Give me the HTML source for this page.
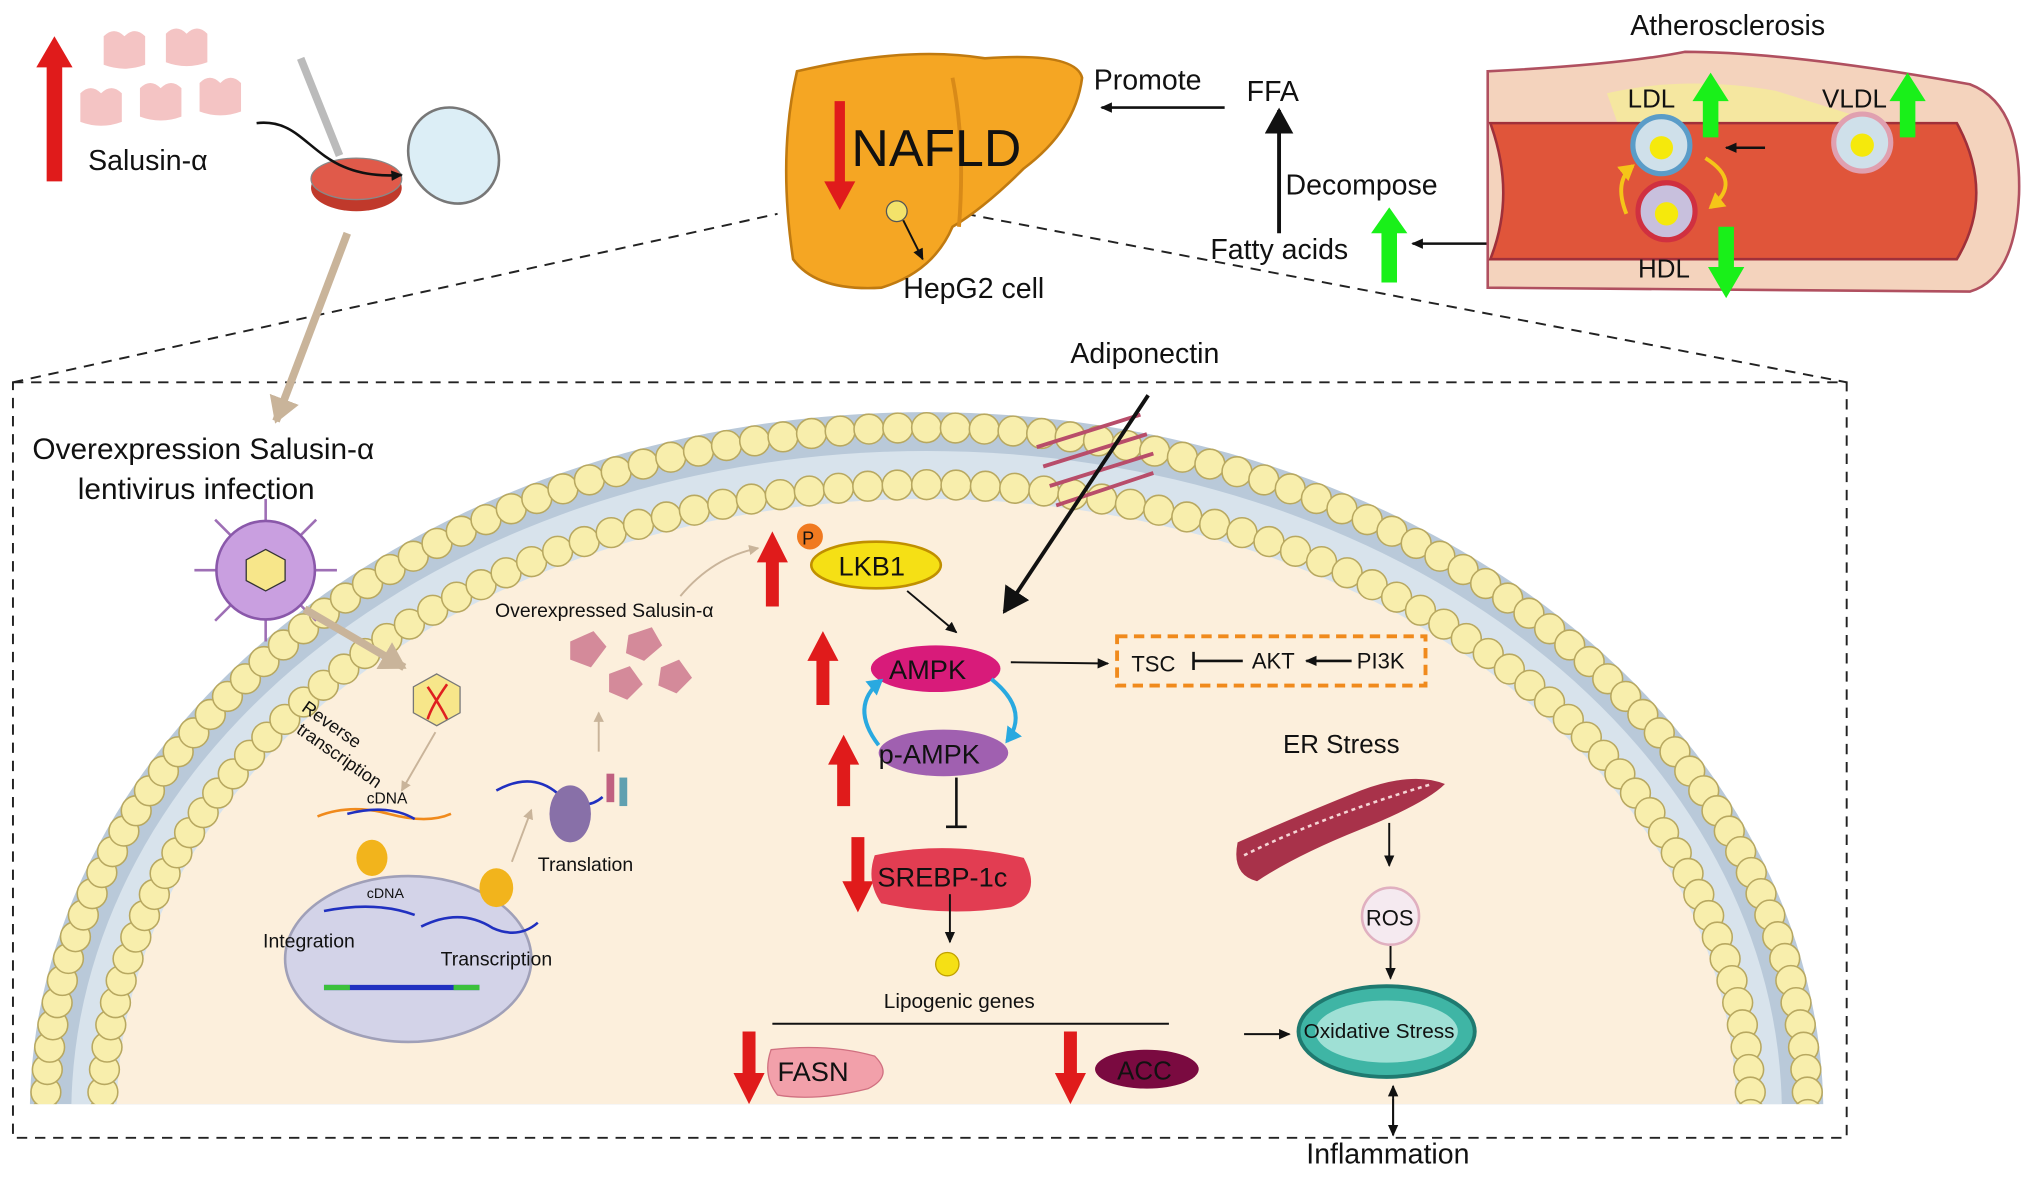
<!DOCTYPE html>
<html><head><meta charset="utf-8"><style>
html,body{margin:0;padding:0;background:#fff;width:2032px;height:1178px;overflow:hidden}
svg{display:block}
text{font-family:"Liberation Sans",sans-serif;fill:#111}
</style></head><body>
<svg id="s" width="2032" height="1178" viewBox="0 0 1568 909" xmlns="http://www.w3.org/2000/svg">
<defs>
<marker id="ah" markerWidth="10" markerHeight="10" refX="8" refY="5" orient="auto" markerUnits="userSpaceOnUse"><path d="M0,1 L9,5 L0,9 Z" fill="#111"/></marker>
<marker id="ahb" markerWidth="22" markerHeight="22" refX="18" refY="11" orient="auto" markerUnits="userSpaceOnUse"><path d="M0,0 L20,11 L0,22 Z" fill="#111"/></marker>
<marker id="aht" markerWidth="24" markerHeight="24" refX="18" refY="12" orient="auto" markerUnits="userSpaceOnUse"><path d="M0,0 L20,12 L0,24 Z" fill="#c9b49a"/></marker>
<marker id="ahs" markerWidth="8" markerHeight="8" refX="7" refY="4" orient="auto" markerUnits="userSpaceOnUse"><path d="M0,0 L8,4 L0,8 Z" fill="#c9b49a"/></marker>
<marker id="ahbl" markerWidth="14" markerHeight="14" refX="10" refY="7" orient="auto" markerUnits="userSpaceOnUse"><path d="M0,0 L12,7 L0,14 Z" fill="#29a9e0"/></marker>
<marker id="ahy" markerWidth="14" markerHeight="14" refX="10" refY="7" orient="auto" markerUnits="userSpaceOnUse"><path d="M0,0 L12,7 L0,14 Z" fill="#f5c518"/></marker>
<clipPath id="cl"><rect x="0" y="0" width="1568" height="852"/></clipPath>
</defs>

<g stroke="#222" stroke-width="1.5" stroke-dasharray="8,6" fill="none">
<rect x="10" y="295" width="1415" height="583"/>
<line x1="10" y1="295" x2="600" y2="165"/>
<line x1="745" y1="165" x2="1425" y2="295"/>
</g>

<g clip-path="url(#cl)" id="cell">
<ellipse cx="715" cy="860" rx="692" ry="542" fill="#b9c9d9"/>
<ellipse cx="715" cy="860" rx="660" ry="512" fill="#d8e3ec"/>
<ellipse cx="715" cy="860" rx="625" ry="475" fill="#fcefdc"/>
<g id="beads"></g>
</g>

<polygon points="36,140 48,140 48,52 56,52 42,28 28,52 36,52" fill="#e01b1b"/>
<g fill="#f4c4c4">
<path d="M80,28 q8,-8 16,0 q8,-8 16,0 l0,22 q-16,6 -32,0z"/>
<path d="M128,26 q8,-8 16,0 q8,-8 16,0 l0,22 q-16,6 -32,0z"/>
<path d="M62,72 q8,-8 16,0 q8,-8 16,0 l0,22 q-16,6 -32,0z"/>
<path d="M108,68 q8,-8 16,0 q8,-8 16,0 l0,22 q-16,6 -32,0z"/>
<path d="M154,64 q8,-8 16,0 q8,-8 16,0 l0,22 q-16,6 -32,0z"/>
</g>
<text x="68" y="131" font-size="22">Salusin-α</text>
<ellipse cx="275" cy="145" rx="35" ry="18" fill="#c0392b"/>
<ellipse cx="275" cy="138" rx="35" ry="16" fill="#e05a4a" stroke="#888"/>
<ellipse cx="350" cy="120" rx="34" ry="38" fill="#dceef6" stroke="#777" stroke-width="2" transform="rotate(-30 350 120)"/>
<line x1="232" y1="45" x2="262" y2="120" stroke="#bbb" stroke-width="6"/>
<path d="M198,95 C240,90 240,140 310,135" stroke="#111" stroke-width="2" fill="none" marker-end="url(#ah)"/>
<line x1="268" y1="180" x2="213" y2="325" stroke="#c9b49a" stroke-width="6" marker-end="url(#aht)"/>

<path d="M615,55 Q700,35 760,45 Q830,40 835,60 Q830,100 790,130 Q760,160 735,175 Q720,210 680,222 Q630,225 612,200 Q600,120 615,55Z" fill="#f5a623" stroke="#c07a10" stroke-width="2"/>
<path d="M735,60 Q745,110 740,175" stroke="#d88a18" stroke-width="3" fill="none"/>
<polygon points="644,78 652,78 652,140 660,140 648,162 636,140 644,140" fill="#e01b1b"/>
<text x="657" y="128" font-size="40">NAFLD</text>
<circle cx="692" cy="163" r="8" fill="#f3e26a" stroke="#555"/>
<line x1="697" y1="170" x2="712" y2="200" stroke="#111" stroke-width="1.5" marker-end="url(#ah)"/>
<text x="697" y="230" font-size="22">HepG2 cell</text>
<text x="844" y="69" font-size="22">Promote</text>
<line x1="945" y1="83" x2="850" y2="83" stroke="#111" stroke-width="2" marker-end="url(#ah)"/>
<text x="962" y="78" font-size="22">FFA</text>
<line x1="987" y1="180" x2="987" y2="85" stroke="#111" stroke-width="3" marker-end="url(#ahb)"/>
<text x="992" y="150" font-size="22">Decompose</text>
<text x="934" y="200" font-size="22">Fatty acids</text>
<polygon points="1066,218 1078,218 1078,180 1086,180 1072,160 1058,180 1066,180" fill="#19f019"/>
<line x1="1150" y1="188" x2="1090" y2="188" stroke="#111" stroke-width="2" marker-end="url(#ah)"/>

<text x="1258" y="27" font-size="22">Atherosclerosis</text>
<path d="M1148,55 Q1250,50 1300,40 Q1380,40 1520,65 Q1560,80 1558,150 Q1555,215 1520,225 L1148,222Z" fill="#f4d3bd" stroke="#b05060" stroke-width="2"/>
<path d="M1240,72 Q1300,58 1370,70 L1450,95 L1250,100Z" fill="#f5e7a0"/>
<path d="M1150,95 L1510,95 Q1540,150 1510,200 L1150,200 Q1170,150 1150,95Z" fill="#e0553a" stroke="#a0303a" stroke-width="2"/>
<circle cx="1282" cy="112" r="22" fill="#cfe0ea" stroke="#5a9cc8" stroke-width="4"/><circle cx="1282" cy="114" r="9" fill="#f5e90c"/>
<circle cx="1437" cy="110" r="22" fill="#cfe0ea" stroke="#e0a0b0" stroke-width="4"/><circle cx="1437" cy="112" r="9" fill="#f5e90c"/>
<circle cx="1286" cy="163" r="22" fill="#c8c0dd" stroke="#d03040" stroke-width="4"/><circle cx="1286" cy="165" r="9" fill="#f5e90c"/>
<path d="M1255,165 Q1245,140 1260,128" stroke="#f5c518" stroke-width="3" fill="none" marker-end="url(#ahy)"/>
<path d="M1316,122 Q1345,140 1320,160" stroke="#f5c518" stroke-width="3" fill="none" marker-end="url(#ahy)"/>
<line x1="1362" y1="114" x2="1332" y2="114" stroke="#111" stroke-width="2" marker-end="url(#ah)"/>
<text x="1256" y="83" font-size="20">LDL</text>
<text x="1406" y="83" font-size="20">VLDL</text>
<text x="1264" y="214" font-size="20">HDL</text>
<polygon points="1314,106 1326,106 1326,78 1334,78 1320,56 1306,78 1314,78" fill="#19f019"/>
<polygon points="1466,106 1478,106 1478,78 1486,78 1472,56 1458,78 1466,78" fill="#19f019"/>
<polygon points="1326,175 1338,175 1338,206 1346,206 1332,230 1318,206 1326,206" fill="#19f019"/>

<text x="826" y="280" font-size="22">Adiponectin</text>
<g stroke="#b84d6a" stroke-width="3" fill="none">
<path d="M800,345 L880,320 M805,360 L885,335 M810,375 L890,350 M815,390 L890,365"/>
</g>
<line x1="886" y1="305" x2="775" y2="472" stroke="#111" stroke-width="3" marker-end="url(#ahb)"/>

<text x="25" y="354" font-size="23">Overexpression Salusin-α</text>
<text x="60" y="385" font-size="23">lentivirus infection</text>
<g stroke="#9e6fb5" stroke-width="2">
<line x1="150" y1="440" x2="260" y2="440"/><line x1="205" y1="385" x2="205" y2="495"/>
<line x1="166" y1="401" x2="244" y2="479"/><line x1="244" y1="401" x2="166" y2="479"/>
</g>
<circle cx="205" cy="440" r="38" fill="#c99fe0" stroke="#8a58aa" stroke-width="2"/>
<polygon points="205,424 220,432 220,448 205,456 190,448 190,432" fill="#f7e68a" stroke="#333"/>
<line x1="235" y1="470" x2="312" y2="515" stroke="#c9b49a" stroke-width="6" marker-end="url(#aht)"/>
<polygon points="337,520 355,530 355,550 337,560 319,550 319,530" fill="#f7e68a" stroke="#777"/>
<path d="M330,530 Q340,545 345,555 M345,528 Q333,545 330,555" stroke="#e02020" stroke-width="2" fill="none"/>
<text x="232" y="548" font-size="14" transform="rotate(35 232 548)">Reverse</text>
<text x="228" y="565" font-size="14" transform="rotate(35 228 565)">transcription</text>
<line x1="336" y1="565" x2="310" y2="610" stroke="#c9b49a" stroke-width="1.5" marker-end="url(#ahs)"/>
<ellipse cx="315" cy="740" rx="95" ry="64" fill="#d3d3e8" stroke="#a0a0b8" stroke-width="2"/>
<text x="283" y="620" font-size="12">cDNA</text>
<path d="M245,630 Q270,620 300,628 Q330,636 348,628" stroke="#f08a1c" stroke-width="2" fill="none"/>
<path d="M268,628 Q300,620 320,632" stroke="#2030c0" stroke-width="2" fill="none"/>
<ellipse cx="287" cy="662" rx="12" ry="14" fill="#f2b41c"/>
<text x="283" y="693" font-size="11">cDNA</text>
<path d="M250,703 Q290,695 320,706" stroke="#2030c0" stroke-width="2" fill="none"/>
<text x="203" y="731" font-size="15">Integration</text>
<line x1="250" y1="762" x2="370" y2="762" stroke="#2030c0" stroke-width="4"/>
<line x1="250" y1="762" x2="270" y2="762" stroke="#3cc03c" stroke-width="4"/>
<line x1="350" y1="762" x2="370" y2="762" stroke="#3cc03c" stroke-width="4"/>
<ellipse cx="383" cy="685" rx="13" ry="15" fill="#f2b41c"/>
<path d="M325,715 Q355,700 380,716 Q400,725 415,712" stroke="#2030c0" stroke-width="2" fill="none"/>
<text x="340" y="745" font-size="15">Transcription</text>
<path d="M383,610 Q410,595 430,612 Q450,628 465,615" stroke="#2030c0" stroke-width="2" fill="none"/>
<ellipse cx="440" cy="628" rx="16" ry="22" fill="#8870a8"/>
<text x="415" y="672" font-size="15">Translation</text>
<rect x="468" y="597" width="6" height="22" fill="#c06080"/><rect x="478" y="600" width="6" height="22" fill="#60a0b0"/>
<line x1="395" y1="665" x2="410" y2="625" stroke="#c9b49a" stroke-width="1.5" marker-end="url(#ahs)"/>
<line x1="462" y1="580" x2="462" y2="550" stroke="#c9b49a" stroke-width="1.5" marker-end="url(#ahs)"/>
<text x="382" y="476" font-size="15">Overexpressed Salusin-α</text>
<path d="M525,460 Q550,430 585,423" stroke="#c9b49a" stroke-width="1.5" fill="none" marker-end="url(#ahs)"/>
<g fill="#d48a9a">
<path d="M440,495 l18,-8 l10,12 l-12,16 l-16,-6z"/><path d="M485,490 l18,-6 l8,14 l-14,12 l-14,-6z"/>
<path d="M510,515 l14,-6 l10,14 l-12,12 l-14,-6z"/><path d="M470,520 l16,-6 l10,14 l-12,12 l-14,-6z"/>
</g>

<polygon points="591,468 601,468 601,434 608,434 596,410 584,434 591,434" fill="#e01b1b"/>
<ellipse cx="676" cy="436" rx="50" ry="18" fill="#f5e015" stroke="#c09000" stroke-width="2"/>
<text x="647" y="444" font-size="21">LKB1</text>
<circle cx="625" cy="414" r="10" fill="#f07a20"/><text x="619" y="420" font-size="14" fill="#fff">P</text>
<line x1="700" y1="456" x2="738" y2="488" stroke="#111" stroke-width="1.5" marker-end="url(#ah)"/>
<polygon points="630,544 640,544 640,510 647,510 635,487 623,510 630,510" fill="#e01b1b"/>
<ellipse cx="722" cy="516" rx="50" ry="18" fill="#d81b7a"/>
<text x="686" y="524" font-size="21">AMPK</text>
<line x1="780" y1="511" x2="855" y2="512" stroke="#111" stroke-width="1.5" marker-end="url(#ah)"/>
<rect x="862" y="491" width="238" height="38" fill="none" stroke="#f08a1c" stroke-width="3" stroke-dasharray="8,5"/>
<text x="873" y="518" font-size="17">TSC</text><text x="966" y="516" font-size="17">AKT</text><text x="1047" y="516" font-size="17">PI3K</text>
<line x1="959" y1="510" x2="921" y2="510" stroke="#111" stroke-width="2"/><line x1="921" y1="503" x2="921" y2="517" stroke="#111" stroke-width="2"/>
<line x1="1043" y1="510" x2="1008" y2="510" stroke="#111" stroke-width="2" marker-end="url(#ah)"/>
<path d="M678,575 Q655,545 680,525" stroke="#29a9e0" stroke-width="3" fill="none" marker-end="url(#ahbl)"/>
<path d="M765,524 Q795,548 777,572" stroke="#29a9e0" stroke-width="3" fill="none" marker-end="url(#ahbl)"/>
<polygon points="646,622 656,622 656,590 663,590 651,567 639,590 646,590" fill="#e01b1b"/>
<ellipse cx="728" cy="581" rx="50" ry="18" fill="#a060b0"/>
<text x="678" y="589" font-size="21">p-AMPK</text>
<line x1="738" y1="600" x2="738" y2="638" stroke="#111" stroke-width="2"/><line x1="730" y1="638" x2="746" y2="638" stroke="#111" stroke-width="2"/>
<polygon points="657,646 667,646 667,680 674,680 662,704 650,680 657,680" fill="#e01b1b"/>
<path d="M675,660 Q730,648 790,662 Q805,690 780,700 Q730,708 680,697 Q668,680 675,660Z" fill="#e23d52"/>
<text x="677" y="684" font-size="21">SREBP-1c</text>
<line x1="733" y1="690" x2="733" y2="727" stroke="#111" stroke-width="1.5" marker-end="url(#ah)"/>
<circle cx="731" cy="744" r="9" fill="#f5e015" stroke="#c0a000"/>
<text x="682" y="778" font-size="16">Lipogenic genes</text>
<line x1="596" y1="790" x2="902" y2="790" stroke="#111" stroke-width="1.5"/>
<polygon points="573,796 583,796 583,828 590,828 578,852 566,828 573,828" fill="#e01b1b"/>
<path d="M595,810 Q640,805 675,815 Q690,830 670,840 Q630,850 600,845 Q588,830 595,810Z" fill="#f2a0aa" stroke="#d07080"/>
<text x="600" y="834" font-size="21">FASN</text>
<polygon points="821,796 831,796 831,828 838,828 826,852 814,828 821,828" fill="#e01b1b"/>
<ellipse cx="885" cy="825" rx="40" ry="15" fill="#7a0a40"/>
<text x="862" y="833" font-size="20">ACC</text>

<text x="990" y="581" font-size="20">ER Stress</text>
<g fill="#a8324a">
<path d="M955,650 Q1000,630 1050,610 Q1090,595 1115,605 Q1100,620 1050,640 Q1000,660 970,680 Q950,675 955,650Z"/>
</g>
<path d="M960,660 Q1020,630 1105,605" stroke="#f5d5d5" stroke-width="2" stroke-dasharray="3,3" fill="none"/>
<line x1="1072" y1="635" x2="1072" y2="668" stroke="#111" stroke-width="1.5" marker-end="url(#ah)"/>
<circle cx="1073" cy="707" r="22" fill="#f5eaf0" stroke="#e0b0c0" stroke-width="2"/>
<text x="1054" y="714" font-size="17">ROS</text>
<line x1="1073" y1="730" x2="1073" y2="755" stroke="#111" stroke-width="1.5" marker-end="url(#ah)"/>
<ellipse cx="1070" cy="796" rx="68" ry="35" fill="#3fb5a5" stroke="#1f7a70" stroke-width="3"/>
<ellipse cx="1070" cy="796" rx="55" ry="24" fill="#9fe0d5"/>
<text x="1006" y="801" font-size="16">Oxidative Stress</text>
<line x1="960" y1="798" x2="995" y2="798" stroke="#111" stroke-width="1.5" marker-end="url(#ah)"/>
<line x1="1075" y1="848" x2="1075" y2="876" stroke="#111" stroke-width="1.5" marker-end="url(#ah)"/>
<line x1="1075" y1="876" x2="1075" y2="838" stroke="#111" stroke-width="1.5" marker-end="url(#ah)"/>
<text x="1008" y="898" font-size="22">Inflammation</text>
</svg>
<script>
(function(){
var g=document.getElementById('beads'),h='';
function row(rx,ry,n){for(var i=0;i<=n;i++){var t=Math.PI*i/n;var x=715-rx*Math.cos(t),y=860-ry*Math.sin(t);
h+='<circle cx="'+x.toFixed(1)+'" cy="'+y.toFixed(1)+'" r="11.5" fill="#f8eeac" stroke="#b8a860" stroke-width="1.2"/>';}}
row(680,530,96);row(636,486,88);
g.innerHTML=h;
})();
</script>
</body></html>
